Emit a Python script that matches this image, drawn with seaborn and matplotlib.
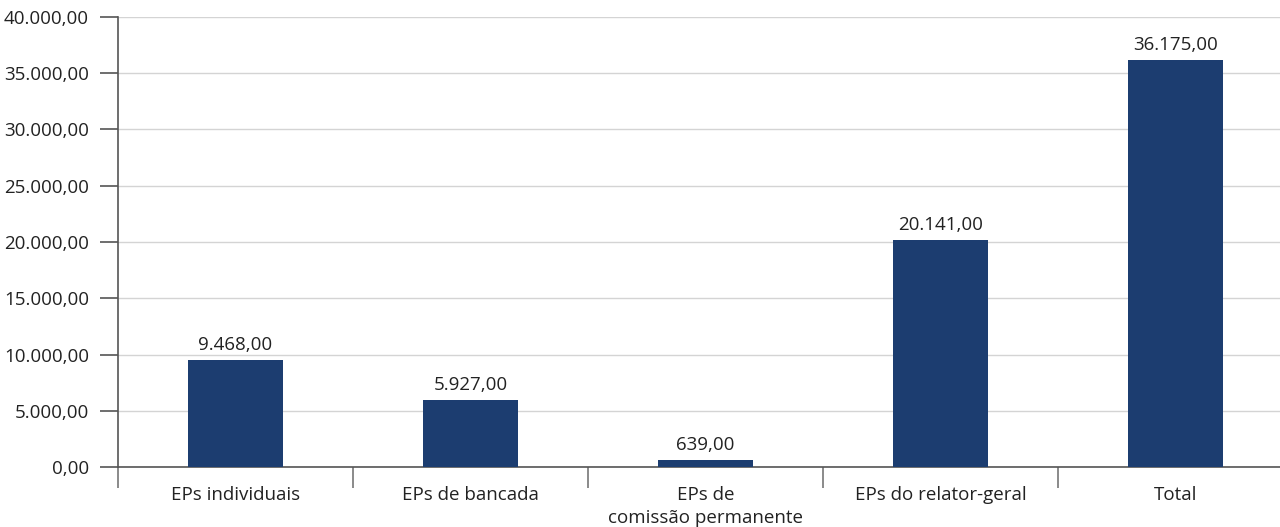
import matplotlib
matplotlib.use("Agg")
import matplotlib.pyplot as plt
import seaborn as sns
import pandas as pd
import numpy as np
from matplotlib.ticker import FixedLocator, FuncFormatter

categorias = ["EPs individuais", "EPs de bancada", "EPs de\ncomissão permanente",
              "EPs do relator-geral", "Total"]
valores = [9468.00, 5927.00, 639.00, 20141.00, 36175.00]
y_ticks = [0, 5000, 10000, 15000, 20000, 25000, 30000, 35000, 40000]

sns.set_theme(style="white")
plt.rcParams["font.family"] = ["Open Sans", "DejaVu Sans"]

FS = 13.5


def fmt_br(v):
    s = f"{v:,.2f}"
    return s.replace(",", "X").replace(".", ",").replace("X", ".")


df = pd.DataFrame({"categoria": categorias, "valor": valores})

fig = plt.figure(figsize=(12.8, 5.27), dpi=100)
ax = fig.add_axes([118 / 1280, 60 / 527, 1175 / 1280, 450 / 527])

sns.barplot(data=df, x="categoria", y="valor", color="#1c3d70", width=0.405,
            saturation=1, linewidth=0, ax=ax, zorder=3)

ax.set_xlim(-0.5, len(categorias) - 0.5)
ax.set_ylim(0, 40000)
ax.yaxis.set_major_locator(FixedLocator(y_ticks))
ax.yaxis.set_major_formatter(FuncFormatter(lambda v, p: fmt_br(v)))
ax.grid(axis="y", color="#d4d4d4", linewidth=1, zorder=0)
ax.set_axisbelow(True)

ax.set_xlabel("")
ax.set_ylabel("")

for side in ["top", "right"]:
    ax.spines[side].set_visible(False)
for side in ["left", "bottom"]:
    ax.spines[side].set_color("#555555")
    ax.spines[side].set_linewidth(1.2)

ax.tick_params(axis="y", which="major", left=True, length=13, width=1.2,
               color="#555555", labelsize=FS, labelcolor="#222222", pad=8)
ax.tick_params(axis="x", which="major", bottom=False, length=0,
               labelsize=FS, labelcolor="#222222", pad=14)
ax.xaxis.set_minor_locator(FixedLocator(np.arange(-0.5, len(categorias), 1.0)))
ax.tick_params(axis="x", which="minor", bottom=True, length=15, width=1.2,
               color="#777777")
for lbl in ax.get_xticklabels():
    lbl.set_linespacing(1.35)
    lbl.set_verticalalignment("top")

for i, v in enumerate(valores):
    ax.annotate(fmt_br(v), (i, v), xytext=(0, 4.5), textcoords="offset points",
                ha="center", va="bottom", fontsize=FS, color="#222222")

fig.savefig("out.png", dpi=100)
